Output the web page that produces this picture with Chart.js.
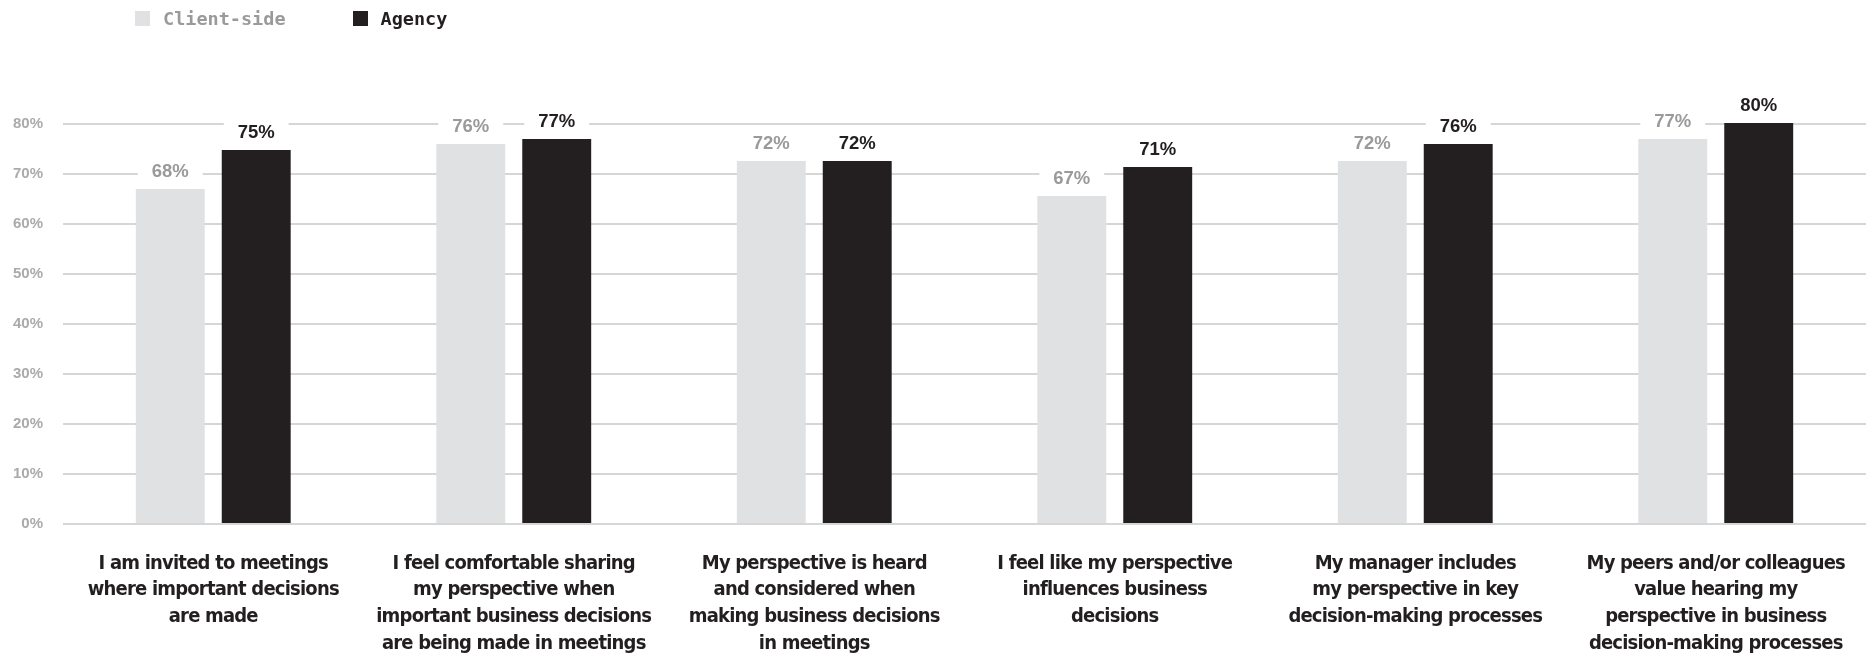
<!DOCTYPE html>
<html>
<head>
<meta charset="utf-8">
<script src="https://cdn.jsdelivr.net/npm/chart.js@4.4.1/dist/chart.umd.min.js"></script>
<style>
    html, body { margin: 0; padding: 0; background: #fff; }
    #wrap { position: relative; width: 1869px; height: 658px; }
    #legend { position: absolute; left: 135px; top: 8px; display: flex; font-family: "DejaVu Sans Mono", monospace; font-weight: bold; font-size: 18.5px; }
    .item { display: flex; align-items: center; height: 21px; }
    .swatch { width: 15px; height: 15px; margin-right: 13px; }
</style>
</head>
<body>
<div id="wrap">
    <div id="legend">
        <div class="item" style="color:#9a9a9a; margin-right:67px"><span class="swatch" style="background:#e0e1e3"></span>Client-side</div>
        <div class="item" style="color:#231f20"><span class="swatch" style="background:#231f20"></span>Agency</div>
    </div>
    <canvas id="chart" width="1869" height="658"></canvas>
</div>
<script>
// --- Data ---
const categories = [
    ['I am invited to meetings', 'where important decisions', 'are made'],
    ['I feel comfortable sharing', 'my perspective when', 'important business decisions', 'are being made in meetings'],
    ['My perspective is heard', 'and considered when', 'making business decisions', 'in meetings'],
    ['I feel like my perspective', 'influences business', 'decisions'],
    ['My manager includes', 'my perspective in key', 'decision-making processes'],
    ['My peers and/or colleagues', 'value hearing my', 'perspective in business', 'decision-making processes']
];
// bar heights as drawn, and the printed labels
const clientValues = [67.0, 76.0, 72.6, 65.6, 72.6, 77.0];
const agencyValues = [74.8, 77.0, 72.6, 71.4, 76.0, 80.2];
const clientLabels = ['68%', '76%', '72%', '67%', '72%', '77%'];
const agencyLabels = ['75%', '77%', '72%', '71%', '76%', '80%'];
const yTicks = [0, 10, 20, 30, 40, 50, 60, 70, 80];

const CLIENT = '#e0e1e3';
const AGENCY = '#231f20';

// tighten the category labels a bit (no narrow font available)
const tightLabels = {
    id: 'tightLabels',
    beforeDraw(chart) { chart.ctx.letterSpacing = '-0.8px'; },
    beforeDatasetsDraw(chart) { chart.ctx.letterSpacing = '0px'; }
};

// value labels sitting on a white plate over the gridlines
const valueLabels = {
    id: 'valueLabels',
    afterDatasetsDraw(chart) {
        const ctx = chart.ctx;
        const sets = [
            { labels: clientLabels, color: '#9a9a9a' },
            { labels: agencyLabels, color: '#231f20' }
        ];
        ctx.save();
        sets.forEach((s, di) => {
            chart.getDatasetMeta(di).data.forEach((bar, i) => {
                const w = bar.width;
                ctx.fillStyle = '#fff';
                ctx.fillRect(bar.x - w / 2 + 2, bar.y - 34, w - 4, 32);
                ctx.fillStyle = s.color;
                ctx.font = 'bold 18.5px "Liberation Sans", Arial, sans-serif';
                ctx.textAlign = 'center';
                ctx.textBaseline = 'alphabetic';
                ctx.fillText(s.labels[i], bar.x, bar.y - 12.5);
            });
        });
        ctx.restore();
    }
};

new Chart(document.getElementById('chart'), {
    type: 'bar',
    data: {
        labels: categories,
        datasets: [{
            label: 'Client-side',
            data: clientValues,
            backgroundColor: CLIENT,
            categoryPercentage: 0.572,
            barPercentage: 0.802,
            clip: false
        }, {
            label: 'Agency',
            data: agencyValues,
            backgroundColor: AGENCY,
            categoryPercentage: 0.572,
            barPercentage: 0.802,
            clip: false
        }]
    },
    options: {
        responsive: false,
        devicePixelRatio: 1,
        animation: false,
        layout: { padding: { top: 124, right: 3, bottom: 0, left: 0 } },
        plugins: {
            legend: { display: false },
            tooltip: { enabled: false }
        },
        scales: {
            x: {
                afterFit(scale) {
                    scale.height = 134;
                    scale.paddingLeft = 0;
                    scale.paddingRight = 0;
                },
                grid: { display: false, drawTicks: false },
                border: { display: false },
                ticks: {
                    autoSkip: false,
                    maxRotation: 0,
                    padding: 26,
                    color: '#231f20',
                    font: { family: '"DejaVu Sans Condensed", sans-serif', weight: 'bold', size: 20, lineHeight: 1.335 }
                }
            },
            y: {
                min: 0,
                max: 80,
                afterFit(scale) { scale.width = 63; },
                afterBuildTicks(scale) { scale.ticks = yTicks.map(v => ({ value: v })); },
                grid: { color: '#d6d6d6', lineWidth: 2, drawTicks: false },
                border: { display: false },
                ticks: {
                    z: 1,
                    padding: 20,
                    color: '#aaaaaa',
                    font: { family: '"Liberation Sans", Arial, sans-serif', weight: 'bold', size: 15 },
                    callback: v => v + '%'
                }
            }
        }
    },
    plugins: [tightLabels, valueLabels]
});
</script>
</body>
</html>
